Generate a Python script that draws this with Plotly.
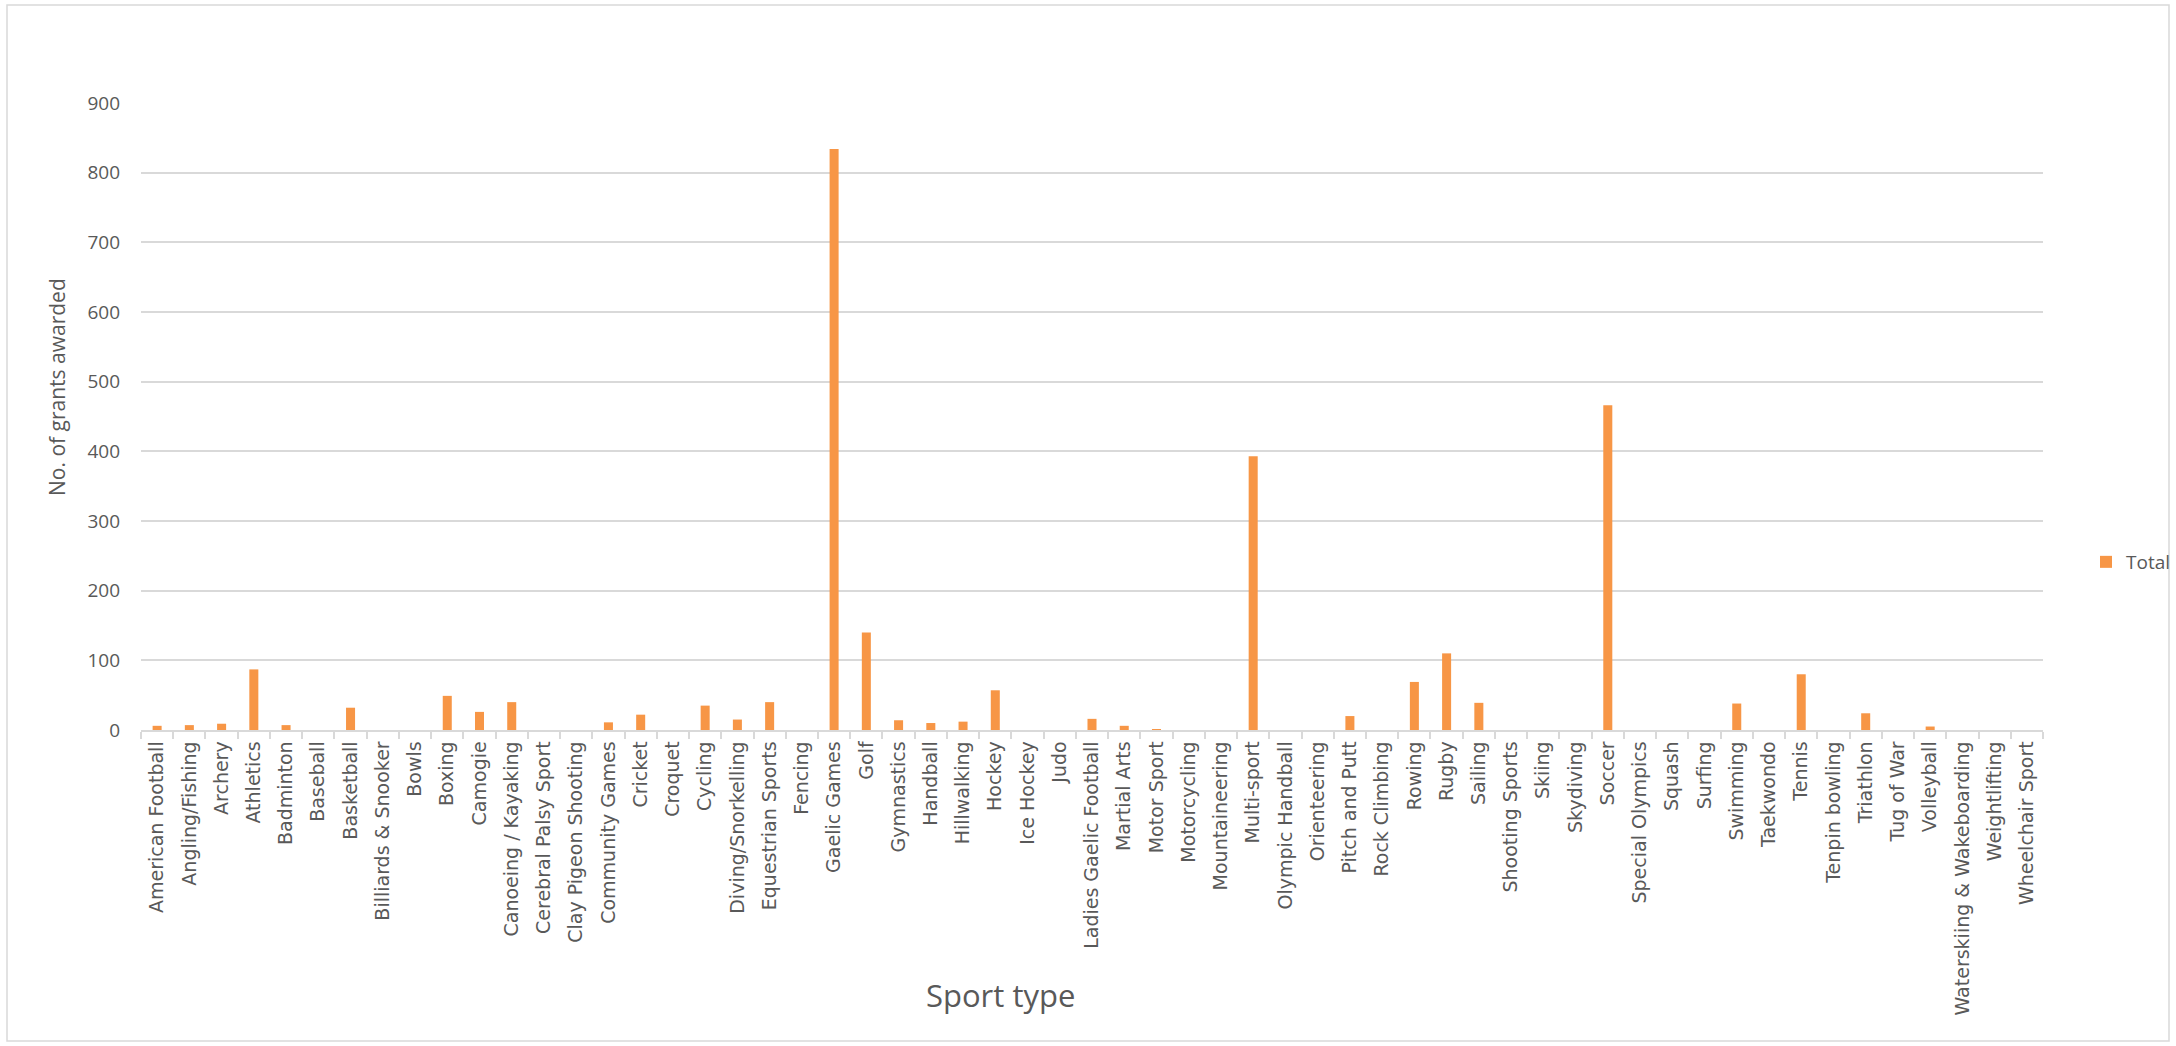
import plotly.graph_objects as go

sports = [
    "American Football", "Angling/Fishing", "Archery", "Athletics", "Badminton",
    "Baseball", "Basketball", "Billiards & Snooker", "Bowls", "Boxing",
    "Camogie", "Canoeing / Kayaking", "Cerebral Palsy Sport", "Clay Pigeon Shooting",
    "Community Games", "Cricket", "Croquet", "Cycling", "Diving/Snorkelling",
    "Equestrian Sports", "Fencing", "Gaelic Games", "Golf", "Gymnastics",
    "Handball", "Hillwalking", "Hockey", "Ice Hockey", "Judo",
    "Ladies Gaelic Football", "Martial Arts", "Motor Sport", "Motorcycling",
    "Mountaineering", "Multi-sport", "Olympic Handball", "Orienteering",
    "Pitch and Putt", "Rock Climbing", "Rowing", "Rugby", "Sailing",
    "Shooting Sports", "Skiing", "Skydiving", "Soccer", "Special Olympics",
    "Squash", "Surfing", "Swimming", "Taekwondo", "Tennis", "Tenpin bowling",
    "Triathlon", "Tug of War", "Volleyball", "Waterskiing & Wakeboarding",
    "Weightlifting", "Wheelchair Sport",
]

totals = [
    6, 7, 9, 87, 7,
    0, 32, 0, 0, 49,
    26, 40, 0, 0,
    11, 22, 0, 35, 15,
    40, 0, 834, 140, 14,
    10, 12, 57, 0, 0,
    16, 6, 1, 0,
    0, 393, 0, 0,
    20, 0, 69, 110, 39,
    0, 0, 0, 466, 0,
    0, 0, 38, 0, 80, 0,
    24, 0, 5, 0,
    0, 0,
]

y_ticks = [0, 100, 200, 300, 400, 500, 600, 700, 800, 900]

W, H = 2176, 1046
L, R, T, B = 141, 133, 103, 316
pw, ph = W - L - R, H - T - B

grey = "#595959"
grid = "#d9d9d9"
body_font = "Open Sans, sans-serif"

fig = go.Figure()
fig.add_trace(go.Bar(
    x=sports, y=totals, name="Total",
    marker=dict(color="#F79646", line=dict(width=0)),
))

fig.update_layout(
    width=W, height=H,
    margin=dict(l=L, r=R, t=T, b=B, autoexpand=False),
    paper_bgcolor="white", plot_bgcolor="white",
    bargap=0.72,
    showlegend=True,
    legend=dict(
        x=(2086 - L) / pw, y=(730 - 562) / ph, xanchor="left", yanchor="middle",
        font=dict(family=body_font, size=19, color=grey),
        itemwidth=30, bgcolor="rgba(0,0,0,0)",
    ),
    font=dict(family=body_font, color=grey),
)

fig.update_xaxes(
    type="category", categoryorder="array", categoryarray=sports,
    tickangle=-90, tickson="boundaries", ticks="outside", ticklen=7,
    tickcolor=grid, tickwidth=1.5,
    showline=True, linecolor=grid, linewidth=1.5,
    showgrid=False, zeroline=False,
    tickfont=dict(family="DejaVu Sans, Verdana, sans-serif", size=19, color=grey),
    ticklabelstandoff=2,
)
fig.update_yaxes(
    range=[0, 900], tickvals=y_ticks, ticktext=[str(v) for v in y_ticks],
    showgrid=True, gridcolor=grid, gridwidth=1.5,
    zeroline=False, showline=False,
    tickfont=dict(family=body_font, size=19, color=grey),
    ticklabelstandoff=20,
)

fig.add_annotation(
    text="No. of grants awarded", xref="paper", yref="paper",
    x=(57 - L) / pw, y=(730 - 387) / ph, textangle=-90,
    showarrow=False, xanchor="center", yanchor="middle",
    font=dict(family=body_font, size=21, color=grey),
)
fig.add_annotation(
    text="Sport type", xref="paper", yref="paper",
    x=(1000 - L) / pw, y=(730 - 995) / ph,
    showarrow=False, xanchor="center", yanchor="middle",
    font=dict(family=body_font, size=31, color=grey),
)

fig.add_shape(
    type="rect", xref="paper", yref="paper",
    x0=(7 - L) / pw, x1=(2169 - L) / pw, y0=(730 - 1041) / ph, y1=(730 - 5) / ph,
    line=dict(color=grid, width=1.5), fillcolor="rgba(0,0,0,0)", layer="below",
)

fig.write_html("out.html")
